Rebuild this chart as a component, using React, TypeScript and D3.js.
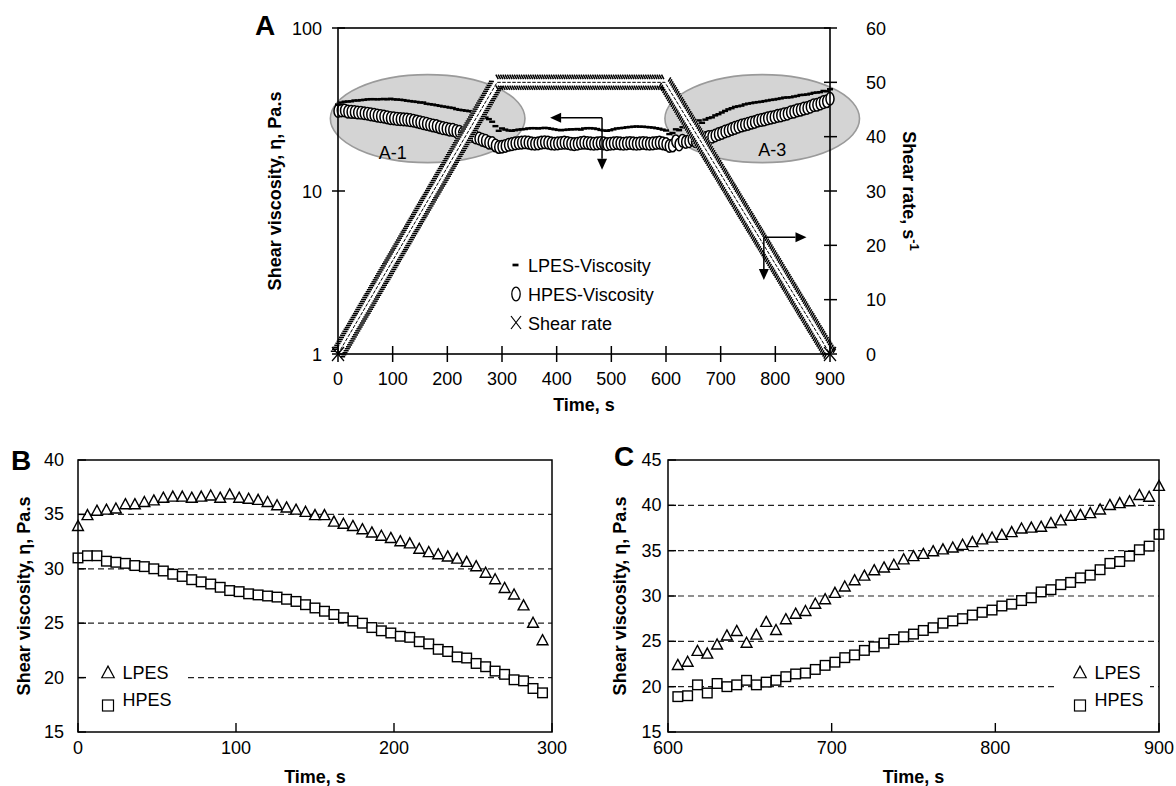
import React from 'react';
import * as d3 from 'd3';

// ---- data ----
const timeB = [0, 6, 12, 18, 24, 30, 36, 42, 48, 54, 60, 66, 72, 78, 84, 90, 96, 102, 108, 114,
  120, 126, 132, 138, 144, 150, 156, 162, 168, 174, 180, 186, 192, 198, 204, 210, 216, 222, 228, 234,
  240, 246, 252, 258, 264, 270, 276, 282, 288, 294];
const lpesB = [33.9, 34.9, 35.3, 35.4, 35.5, 35.9, 35.9, 36.1, 36.25, 36.5, 36.6, 36.6, 36.5, 36.6, 36.7, 36.5, 36.8, 36.5, 36.4, 36.3,
  36.1, 35.8, 35.6, 35.4, 35.2, 34.9, 34.9, 34.3, 34.1, 33.9, 33.6, 33.3, 33.0, 32.8, 32.5, 32.3, 31.8, 31.5, 31.3, 31.1,
  30.9, 30.6, 30.2, 29.6, 29.0, 28.2, 27.6, 26.6, 25.0, 23.4];
const hpesB = [31.0, 31.2, 31.2, 30.7, 30.6, 30.5, 30.3, 30.2, 30.0, 29.8, 29.5, 29.3, 29.0, 28.8, 28.6, 28.3, 28.0, 27.9, 27.7, 27.6,
  27.5, 27.4, 27.2, 27.0, 26.7, 26.4, 26.1, 25.8, 25.5, 25.2, 25.0, 24.6, 24.3, 24.1, 23.8, 23.7, 23.3, 23.1, 22.6, 22.4,
  21.9, 21.8, 21.3, 21.0, 20.6, 20.3, 19.8, 19.7, 19.0, 18.6];

const timeMid = [300, 306, 312, 318, 324, 330, 336, 342, 348, 354, 360, 366, 372, 378, 384, 390, 396, 402, 408, 414,
  420, 426, 432, 438, 444, 450, 456, 462, 468, 474, 480, 486, 492, 498, 504, 510, 516, 522, 528, 534,
  540, 546, 552, 558, 564, 570, 576, 582, 588, 594, 600];
const lpesMid = [24.2, 23.8, 23.5, 23.4, 23.6, 23.8, 23.9, 24.0, 24.2, 24.3, 24.3, 24.2, 24.3, 24.4, 24.3, 24.1, 23.9, 23.7, 23.6, 23.7,
  23.8, 23.9, 23.9, 24.0, 23.8, 24.2, 24.3, 24.3, 24.2, 24.0, 23.7, 23.5, 23.4, 23.6, 23.9, 24.2, 24.3, 24.4, 24.6, 24.7,
  24.8, 24.9, 24.8, 24.8, 24.7, 24.6, 24.5, 24.3, 24.1, 23.8, 23.5];
const hpesMid = [18.7, 18.9, 19.2, 19.4, 19.6, 19.7, 19.8, 19.9, 19.8, 19.6, 19.5, 19.6, 19.8, 19.9, 19.8, 19.6, 19.5, 19.6, 19.7, 19.8,
  19.7, 19.5, 19.4, 19.5, 19.7, 19.8, 19.7, 19.6, 19.5, 19.6, 19.7, 19.6, 19.4, 19.5, 19.6, 19.7, 19.6, 19.5, 19.6, 19.7,
  19.6, 19.5, 19.6, 19.7, 19.6, 19.5, 19.6, 19.7, 19.8, 19.6, 19.4];

const timeC = [606, 612, 618, 624, 630, 636, 642, 648, 654, 660, 666, 672, 678, 684, 690, 696, 702, 708, 714, 720,
  726, 732, 738, 744, 750, 756, 762, 768, 774, 780, 786, 792, 798, 804, 810, 816, 822, 828, 834, 840,
  846, 852, 858, 864, 870, 876, 882, 888, 894, 900];
const lpesC = [22.35, 22.7, 23.9, 23.6, 24.6, 25.6, 26.1, 24.8, 25.7, 27.1, 26.2, 27.4, 28.0, 28.3, 29.1, 29.6, 30.3, 31.0, 31.7, 32.2,
  32.8, 33.1, 33.4, 34.0, 34.35, 34.6, 34.9, 35.1, 35.3, 35.6, 35.9, 36.2, 36.4, 36.7, 37.0, 37.4, 37.5, 37.6, 38.0, 38.3,
  38.8, 38.9, 39.1, 39.5, 40.0, 40.2, 40.4, 41.1, 40.9, 42.1];
const hpesC = [18.9, 19.0, 20.2, 19.3, 20.35, 20.0, 20.2, 20.7, 20.2, 20.5, 20.7, 21.1, 21.4, 21.5, 21.9, 22.35, 22.7, 23.2, 23.5, 24.0,
  24.4, 24.8, 25.2, 25.5, 25.8, 26.2, 26.5, 27.0, 27.25, 27.5, 27.9, 28.2, 28.45, 28.9, 29.1, 29.5, 29.8, 30.45, 30.7, 31.25,
  31.5, 32.0, 32.3, 32.9, 33.6, 33.8, 34.4, 35.1, 35.5, 36.8];

// shear-rate programme (corners)
const shearTime = [0, 291, 598, 900];
const shearRate = [0, 50, 50, 0];

const xTicksA = [0, 100, 200, 300, 400, 500, 600, 700, 800, 900];
const yTicksA = [1, 10, 100];
const rTicksA = [0, 10, 20, 30, 40, 50, 60];

const FONT = '"Liberation Sans", Arial, Helvetica, sans-serif';

const tri = (cx: number, cy: number, s: number) =>
  `M${cx},${cy - s * 0.55}L${cx + s * 0.5},${cy + s * 0.38}L${cx - s * 0.5},${cy + s * 0.38}Z`;

// short slanted strokes along both edges of a polyline (dense X-marker look)
function hatch(pts: [number, number][], step: number, inner: number, outer: number, skew: number) {
  let d = '';
  for (let k = 0; k < pts.length - 1; k++) {
    const [x0, y0] = pts[k];
    const [x1, y1] = pts[k + 1];
    const L = Math.hypot(x1 - x0, y1 - y0);
    const ux = (x1 - x0) / L, uy = (y1 - y0) / L;
    const nx = -uy, ny = ux;
    for (let s = 0; s <= L; s += step) {
      const bx = x0 + ux * s, by = y0 + uy * s;
      for (const side of [-1, 1]) {
        const ax = bx + nx * side * inner - ux * skew * side, ay = by + ny * side * inner - uy * skew * side;
        const cx = bx + nx * side * outer + ux * skew * side, cy = by + ny * side * outer + uy * skew * side;
        d += `M${ax.toFixed(2)},${ay.toFixed(2)}L${cx.toFixed(2)},${cy.toFixed(2)}`;
      }
    }
  }
  return d;
}

function Arrow({ x1, y1, x2, y2 }: { x1: number; y1: number; x2: number; y2: number }) {
  const ang = Math.atan2(y2 - y1, x2 - x1);
  const L = 11, W = 5;
  const bx = x2 - L * Math.cos(ang), by = y2 - L * Math.sin(ang);
  const px = -Math.sin(ang) * W, py = Math.cos(ang) * W;
  return (
    <g>
      <line x1={x1} y1={y1} x2={bx} y2={by} stroke="#000" strokeWidth={1.5} />
      <path d={`M${x2},${y2}L${bx + px},${by + py}L${bx - px},${by - py}Z`} fill="#000" />
    </g>
  );
}

function PanelA() {
  const x = d3.scaleLinear().domain([0, 900]).range([338, 830]);
  const y = d3.scaleLog().domain([1, 100]).range([354, 28]);
  const yr = d3.scaleLinear().domain([0, 60]).range([354, 28]);

  const tA = [...timeB, ...timeMid, ...timeC];
  const lA = [...lpesB, ...lpesMid, ...lpesC];
  const hA = [...hpesB, ...hpesMid, ...hpesC];

  const shearPx = shearTime.map((t, i) => [x(t), yr(shearRate[i])] as [number, number]);
  const band = d3.line()(shearPx) || '';
  const ticks = hatch(shearPx, 2.3, 3.2, 7.6, 1.2);

  // annotation anchors in data space
  const e1 = { cx: x(164), cy: y(27.8) };
  const e3 = { cx: x(776), cy: y(27.8) };
  const erx = x(178) - x(0);

  const a1 = { t: 483, v: 28.1 };
  const a2 = { t: 779, r: 21.5 };

  return (
    <g fontFamily={FONT}>
      {/* shaded zones */}
      <ellipse cx={e1.cx} cy={e1.cy} rx={erx} ry={44} fill="#d4d4d4" stroke="#9a9a9a" strokeWidth={1.6} />
      <ellipse cx={e3.cx} cy={e3.cy} rx={erx} ry={44} fill="#d4d4d4" stroke="#9a9a9a" strokeWidth={1.6} />
      <text x={e1.cx - 35} y={159} fontSize={18} textAnchor="middle">A-1</text>
      <text x={e3.cx + 10} y={156} fontSize={18} textAnchor="middle">A-3</text>

      {/* HPES viscosity */}
      {tA.map((t, i) => (
        <ellipse key={'h' + i} cx={x(t)} cy={y(hA[i])} rx={4} ry={6.3} fill="#fff" stroke="#000" strokeWidth={1.5} />
      ))}
      {/* LPES viscosity */}
      {tA.map((t, i) => (
        <line key={'l' + i} x1={x(t) - 3} x2={x(t) + 3} y1={y(lA[i])} y2={y(lA[i])} stroke="#000" strokeWidth={2.4} />
      ))}

      {/* shear rate */}
      <path d={band} fill="none" stroke="#fff" strokeWidth={15} strokeLinejoin="bevel" />
      <path d={ticks} fill="none" stroke="#000" strokeWidth={1.5} />
      <path d={band} fill="none" stroke="#000" strokeWidth={1} strokeDasharray="3.5 1.5" />
      {[0, shearTime.length - 1].map(i => (
        <g key={'x' + i} stroke="#000" strokeWidth={1.2}>
          <line x1={x(shearTime[i]) - 6} x2={x(shearTime[i]) + 6} y1={yr(shearRate[i]) - 7} y2={yr(shearRate[i]) + 7} />
          <line x1={x(shearTime[i]) - 6} x2={x(shearTime[i]) + 6} y1={yr(shearRate[i]) + 7} y2={yr(shearRate[i]) - 7} />
        </g>
      ))}

      {/* arrows */}
      <Arrow x1={x(a1.t)} y1={y(a1.v)} x2={x(388)} y2={y(a1.v)} />
      <Arrow x1={x(a1.t)} y1={y(a1.v)} x2={x(a1.t)} y2={y(13.5)} />
      <Arrow x1={x(a2.t)} y1={yr(a2.r)} x2={x(857)} y2={yr(a2.r)} />
      <Arrow x1={x(a2.t)} y1={yr(a2.r)} x2={x(a2.t)} y2={yr(13.6)} />

      {/* legend */}
      <line x1={512.5} x2={518.5} y1={265} y2={265} stroke="#000" strokeWidth={2.7} />
      <text x={528} y={272} fontSize={18}>LPES-Viscosity</text>
      <ellipse cx={516} cy={294} rx={4.2} ry={6.8} fill="#fff" stroke="#000" strokeWidth={1.3} />
      <text x={528} y={301} fontSize={18}>HPES-Viscosity</text>
      <g stroke="#000" strokeWidth={1.2}>
        <line x1={511} x2={521} y1={316} y2={329} />
        <line x1={511} x2={521} y1={329} y2={316} />
      </g>
      <text x={528} y={330} fontSize={18}>Shear rate</text>

      {/* frame & axes */}
      <rect x={338} y={28} width={492} height={326} fill="none" stroke="#000" strokeWidth={1.6} />
      {xTicksA.map(t => (
        <g key={'xt' + t}>
          <line x1={x(t)} x2={x(t)} y1={346} y2={362} stroke="#000" strokeWidth={1.5} />
          <text x={x(t)} y={385} fontSize={18} textAnchor="middle">{t}</text>
        </g>
      ))}
      {yTicksA.map(v => (
        <g key={'yt' + v}>
          <line x1={332} x2={345} y1={y(v)} y2={y(v)} stroke="#000" strokeWidth={1.5} />
          <text x={322} y={y(v) + 6.5} fontSize={18} textAnchor="end">{v}</text>
        </g>
      ))}
      {rTicksA.map(v => (
        <g key={'rt' + v}>
          <line x1={824} x2={837} y1={yr(v)} y2={yr(v)} stroke="#000" strokeWidth={1.5} />
          <text x={866} y={yr(v) + 6.5} fontSize={18}>{v}</text>
        </g>
      ))}
      <text x={584} y={411} fontSize={18} fontWeight="bold" textAnchor="middle">Time, s</text>
      <text transform="translate(281,191) rotate(-90)" fontSize={18} fontWeight="bold" textAnchor="middle">
        Shear viscosity, η, Pa.s
      </text>
      <text transform="translate(903,191) rotate(90)" fontSize={18} fontWeight="bold" textAnchor="middle">
        Shear rate, s<tspan dy={-7} fontSize={13}>-1</tspan>
      </text>
      <text x={255} y={35} fontSize={28} fontWeight="bold">A</text>
    </g>
  );
}

type SmallProps = {
  letter: string; letterX: number; letterY: number;
  left: number; right: number; labelGap: number; titleX: number;
  xDomain: [number, number]; xTicks: number[];
  yDomain: [number, number]; yTicks: number[]; grid: number[];
  time: number[]; lpes: number[]; hpes: number[];
  legend: { x0: number; x1: number; mx: number; y0: number; y1: number; gridCut: number };
};

function SmallPanel(p: SmallProps) {
  const top = 460, bottom = 732;
  const x = d3.scaleLinear().domain(p.xDomain).range([p.left, p.right]);
  const y = d3.scaleLinear().domain(p.yDomain).range([bottom, top]);
  const lg = p.legend;
  return (
    <g fontFamily={FONT}>
      {p.grid.map(v => (
        <line key={'g' + v} x1={p.left} x2={p.right} y1={y(v)} y2={y(v)} stroke="#222" strokeWidth={1.2} strokeDasharray="6 4" />
      ))}
      {/* legend box masks grid */}
      <rect x={lg.x0} y={lg.y0} width={lg.x1 - lg.x0} height={lg.y1 - lg.y0} fill="#fff" />
      {p.time.map((t, i) => (
        <rect key={'s' + i} x={x(t) - 4.8} y={y(p.hpes[i]) - 4.8} width={9.6} height={9.6} fill="#fff" stroke="#000" strokeWidth={1.4} />
      ))}
      {p.time.map((t, i) => (
        <path key={'t' + i} d={tri(x(t), y(p.lpes[i]), 10.8)} fill="#fff" stroke="#000" strokeWidth={1.4} strokeLinejoin="miter" />
      ))}
      {/* legend */}
      <path d={tri(lg.mx, lg.gridCut - 5, 12.5)} fill="#fff" stroke="#000" strokeWidth={1.2} />
      <text x={lg.mx + 14.5} y={lg.gridCut + 1} fontSize={18}>LPES</text>
      <rect x={lg.mx - 5.5} y={lg.gridCut + 22} width={11} height={11} fill="#fff" stroke="#000" strokeWidth={1.2} />
      <text x={lg.mx + 14.5} y={lg.gridCut + 28} fontSize={18}>HPES</text>

      {/* frame */}
      <rect x={p.left} y={top} width={p.right - p.left} height={bottom - top} fill="none" stroke="#000" strokeWidth={1.5} />
      {p.xTicks.map(t => (
        <g key={'xt' + t}>
          <line x1={x(t)} x2={x(t)} y1={bottom} y2={bottom - 9} stroke="#000" strokeWidth={1.4} />
          <text x={x(t)} y={754} fontSize={18} textAnchor="middle">{t}</text>
        </g>
      ))}
      {p.yTicks.map(v => (
        <g key={'yt' + v}>
          <line x1={p.left} x2={p.left + 8} y1={y(v)} y2={y(v)} stroke="#000" strokeWidth={1.4} />
          <text x={p.left - p.labelGap} y={y(v) + 6} fontSize={18} textAnchor="end">{v}</text>
        </g>
      ))}
      <text x={(p.left + p.right) / 2} y={783} fontSize={18} fontWeight="bold" textAnchor="middle">Time, s</text>
      <text transform={`translate(${p.titleX},${(top + bottom) / 2}) rotate(-90)`} fontSize={18} fontWeight="bold" textAnchor="middle">
        Shear viscosity, η, Pa.s
      </text>
      <text x={p.letterX} y={p.letterY} fontSize={28} fontWeight="bold">{p.letter}</text>
    </g>
  );
}

export default function App() {
  return (
    <svg width={1176} height={786} viewBox="0 0 1176 786"
      style={{ position: 'fixed', left: 0, top: 0, background: '#fff' }}>
      <rect width={1176} height={786} fill="#fff" />
      <PanelA />
      <SmallPanel letter="B" letterX={11} letterY={470} left={78} right={552} labelGap={14} titleX={30}
        xDomain={[0, 300]} xTicks={[0, 100, 200, 300]}
        yDomain={[15, 40]} yTicks={[15, 20, 25, 30, 35, 40]} grid={[20, 25, 30, 35]}
        time={timeB} lpes={lpesB} hpes={hpesB}
        legend={{ x0: 87, x1: 187, mx: 108, y0: 652, y1: 716, gridCut: 678 }} />
      <SmallPanel letter="C" letterX={614} letterY={466} left={668} right={1159} labelGap={6.5} titleX={626}
        xDomain={[600, 900]} xTicks={[600, 700, 800, 900]}
        yDomain={[15, 45]} yTicks={[15, 20, 25, 30, 35, 40, 45]} grid={[20, 25, 30, 35, 40]}
        time={timeC} lpes={lpesC} hpes={hpesC}
        legend={{ x0: 1056, x1: 1150, mx: 1080, y0: 652, y1: 716, gridCut: 678 }} />
    </svg>
  );
}
